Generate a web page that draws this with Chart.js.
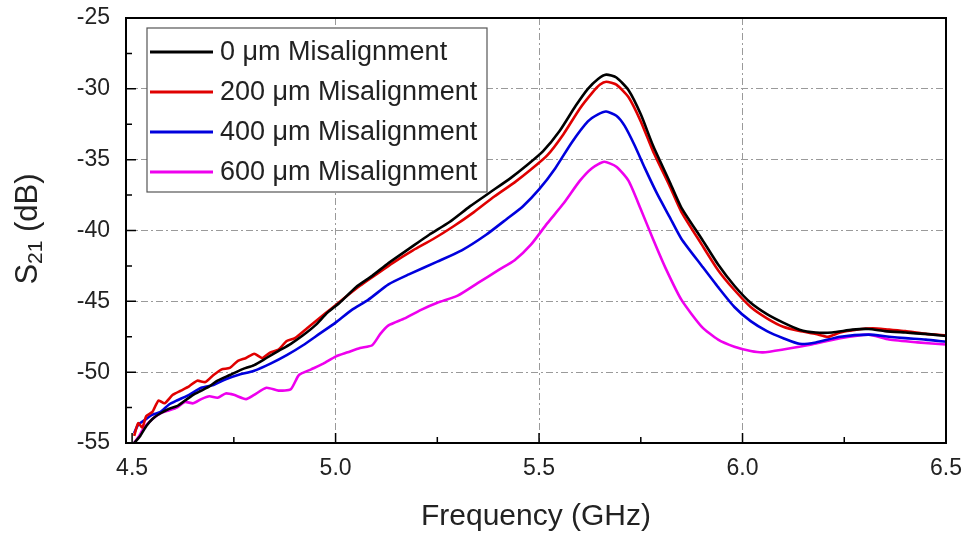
<!DOCTYPE html>
<html>
<head>
<meta charset="utf-8">
<script src="https://cdn.jsdelivr.net/npm/chart.js@4"></script>
<style>
  body { margin: 0; background: #fff; }
</style>
</head>
<body>
<canvas id="s21Chart" width="969" height="540"></canvas>
<script>
// frequency in GHz, S21 in dB
const labels = ["0 \u03bcm Misalignment", "200 \u03bcm Misalignment", "400 \u03bcm Misalignment", "600 \u03bcm Misalignment"];
const colors = ["#000000", "#e00000", "#0000dd", "#ee00ee"];

const freq0 = [4.505, 4.52, 4.535, 4.55, 4.57, 4.59, 4.61, 4.63, 4.65, 4.67, 4.69, 4.71, 4.74, 4.77, 4.80, 4.83, 4.86, 4.89, 4.92, 4.95, 4.98, 5.01, 5.05, 5.09, 5.13, 5.18, 5.23, 5.28, 5.33, 5.38, 5.43, 5.47, 5.51, 5.55, 5.59, 5.62, 5.645, 5.665, 5.69, 5.72, 5.75, 5.78, 5.82, 5.85, 5.90, 5.94, 5.98, 6.02, 6.06, 6.10, 6.14, 6.18, 6.22, 6.27, 6.31, 6.35, 6.40, 6.45, 6.50];
const s21_0 = [-55.0, -54.5, -53.8, -53.3, -52.9, -52.6, -52.4, -52.0, -51.6, -51.3, -51.0, -50.6, -50.2, -49.8, -49.5, -49.0, -48.5, -48.0, -47.4, -46.7, -45.8, -45.1, -44.0, -43.2, -42.3, -41.3, -40.3, -39.4, -38.3, -37.3, -36.3, -35.4, -34.4, -33.0, -31.2, -30.0, -29.3, -29.0, -29.2, -30.1, -31.8, -34.0, -36.5, -38.4, -40.6, -42.4, -43.9, -45.1, -45.9, -46.5, -47.0, -47.2, -47.2, -47.0, -46.95, -47.1, -47.2, -47.3, -47.45];

const freq200 = [4.505, 4.515, 4.525, 4.535, 4.55, 4.565, 4.58, 4.60, 4.62, 4.64, 4.66, 4.68, 4.70, 4.72, 4.74, 4.76, 4.78, 4.80, 4.82, 4.84, 4.86, 4.88, 4.90, 4.93, 4.96, 4.99, 5.02, 5.06, 5.10, 5.14, 5.19, 5.24, 5.29, 5.34, 5.39, 5.44, 5.48, 5.52, 5.56, 5.60, 5.63, 5.65, 5.665, 5.69, 5.72, 5.75, 5.78, 5.82, 5.85, 5.90, 5.94, 5.98, 6.02, 6.06, 6.10, 6.14, 6.18, 6.21, 6.24, 6.28, 6.32, 6.36, 6.40, 6.45, 6.50];
const s21_200 = [-54.5, -53.6, -53.9, -53.1, -52.8, -52.0, -52.2, -51.6, -51.3, -51.0, -50.6, -50.7, -50.2, -49.8, -49.7, -49.2, -49.0, -48.7, -49.0, -48.6, -48.4, -47.8, -47.6, -46.9, -46.2, -45.5, -44.8, -43.9, -43.1, -42.3, -41.4, -40.6, -39.7, -38.7, -37.6, -36.6, -35.7, -34.7, -33.2, -31.4, -30.3, -29.7, -29.5, -29.7, -30.6, -32.3, -34.4, -36.8, -38.7, -41.0, -42.8, -44.2, -45.4, -46.2, -46.8, -47.1, -47.3, -47.5, -47.2, -47.0, -46.9, -47.0, -47.1, -47.3, -47.4];

const freq400 = [4.505, 4.515, 4.53, 4.55, 4.57, 4.59, 4.61, 4.64, 4.67, 4.70, 4.73, 4.76, 4.80, 4.84, 4.88, 4.92, 4.96, 5.00, 5.04, 5.08, 5.13, 5.18, 5.25, 5.31, 5.37, 5.42, 5.46, 5.50, 5.54, 5.58, 5.62, 5.645, 5.665, 5.69, 5.71, 5.735, 5.76, 5.79, 5.82, 5.85, 5.90, 5.94, 5.98, 6.02, 6.06, 6.10, 6.14, 6.18, 6.24, 6.31, 6.36, 6.40, 6.45, 6.50];
const s21_400 = [-54.3, -53.7, -53.4, -53.0, -52.8, -52.3, -52.0, -51.6, -51.1, -50.9, -50.5, -50.2, -49.9, -49.4, -48.8, -48.1, -47.3, -46.5, -45.6, -44.9, -43.8, -43.1, -42.2, -41.4, -40.3, -39.2, -38.3, -37.1, -35.6, -33.8, -32.3, -31.8, -31.6, -31.9, -32.6, -34.0, -35.6, -37.4, -39.0, -40.6, -42.5, -44.0, -45.4, -46.4, -47.1, -47.6, -48.0, -47.9, -47.5, -47.35, -47.5, -47.6, -47.7, -47.85];

const freq600 = [4.505, 4.515, 4.53, 4.55, 4.57, 4.59, 4.61, 4.63, 4.65, 4.67, 4.69, 4.71, 4.73, 4.75, 4.78, 4.80, 4.83, 4.86, 4.89, 4.91, 4.94, 4.97, 5.00, 5.03, 5.06, 5.09, 5.11, 5.13, 5.17, 5.21, 5.25, 5.30, 5.35, 5.40, 5.44, 5.48, 5.52, 5.56, 5.60, 5.63, 5.66, 5.69, 5.72, 5.75, 5.78, 5.81, 5.85, 5.90, 5.94, 5.98, 6.02, 6.05, 6.10, 6.17, 6.24, 6.31, 6.36, 6.43, 6.50];
const s21_600 = [-55.0, -54.6, -53.9, -53.3, -52.9, -52.7, -52.5, -52.1, -52.2, -51.9, -51.7, -51.8, -51.5, -51.6, -51.9, -51.6, -51.1, -51.3, -51.2, -50.2, -49.8, -49.4, -48.9, -48.6, -48.3, -48.1, -47.3, -46.7, -46.2, -45.6, -45.1, -44.6, -43.7, -42.8, -42.1, -41.0, -39.5, -38.1, -36.5, -35.6, -35.15, -35.5, -36.5, -38.5, -40.6, -42.6, -44.9, -46.8, -47.7, -48.2, -48.5, -48.6, -48.4, -48.05, -47.6, -47.35, -47.7, -47.9, -48.05];

const xTicks = [4.5, 5.0, 5.5, 6.0, 6.5];
const yTicks = [-55, -50, -45, -40, -35, -30, -25];

const freqs = [freq0, freq200, freq400, freq600];
const values = [s21_0, s21_200, s21_400, s21_600];

const datasets = labels.map((label, i) => ({
  label: label,
  data: freqs[i].map((f, j) => ({ x: f, y: values[i][j] })),
  borderColor: colors[i],
  backgroundColor: colors[i],
  borderWidth: 2.6,
  pointRadius: 0,
  tension: 0.2,
  fill: false
}));

const fontFamily = '"Liberation Sans", Arial, sans-serif';

// frame, inward ticks, boxed legend and S21 axis title
const figureExtras = {
  id: 'figureExtras',
  afterDraw(chart) {
    const { ctx, chartArea: a, scales: { x, y } } = chart;
    ctx.save();
    ctx.strokeStyle = '#000';
    ctx.lineWidth = 2;
    ctx.strokeRect(a.left, a.top, a.right - a.left, a.bottom - a.top);

    ctx.lineWidth = 1.5;
    ctx.beginPath();
    yTicks.forEach((v, i) => {
      const py = y.getPixelForValue(v);
      ctx.moveTo(a.left, py); ctx.lineTo(a.left + 10, py);
      if (i < yTicks.length - 1) {
        const pm = y.getPixelForValue(v + 2.5);
        ctx.moveTo(a.left, pm); ctx.lineTo(a.left + 6, pm);
      }
    });
    xTicks.forEach((v, i) => {
      const px = x.getPixelForValue(v);
      ctx.moveTo(px, a.bottom); ctx.lineTo(px, a.bottom - 10);
      if (i < xTicks.length - 1) {
        const pm = x.getPixelForValue(v + 0.25);
        ctx.moveTo(pm, a.bottom); ctx.lineTo(pm, a.bottom - 6);
      }
    });
    ctx.stroke();

    // legend box
    ctx.fillStyle = '#fff';
    ctx.fillRect(147, 28, 340, 164);
    ctx.strokeStyle = '#555';
    ctx.lineWidth = 1.2;
    ctx.strokeRect(147, 28, 340, 164);
    ctx.font = '27px ' + fontFamily;
    ctx.textBaseline = 'middle';
    ctx.textAlign = 'left';
    chart.data.datasets.forEach((ds, i) => {
      const ly = 52 + i * 40;
      ctx.strokeStyle = ds.borderColor;
      ctx.lineWidth = 3;
      ctx.beginPath();
      ctx.moveTo(150, ly); ctx.lineTo(213, ly);
      ctx.stroke();
      ctx.fillStyle = '#222';
      ctx.fillText(ds.label, 220, ly + 1);
    });

    // y title with subscript
    ctx.translate(28, 229);
    ctx.rotate(-Math.PI / 2);
    ctx.fillStyle = '#222';
    const big = '31px ' + fontFamily;
    const small = '21px ' + fontFamily;
    ctx.font = big;
    const wS = ctx.measureText('S').width;
    const wT = ctx.measureText(' (dB)').width;
    ctx.font = small;
    const w21 = ctx.measureText('21').width;
    let tx = -(wS + w21 + wT) / 2;
    ctx.textBaseline = 'middle';
    ctx.font = big;
    ctx.fillText('S', tx, 0);
    tx += wS;
    ctx.font = small;
    ctx.fillText('21', tx, 8);
    tx += w21;
    ctx.font = big;
    ctx.fillText(' (dB)', tx, 0);
    ctx.restore();
  }
};

const ctx = document.getElementById('s21Chart').getContext('2d');
new Chart(ctx, {
  type: 'line',
  data: { datasets: datasets },
  options: {
    responsive: false,
    animation: false,
    devicePixelRatio: 1,
    layout: { padding: { left: 0, right: 23, top: 18, bottom: 0 } },
    plugins: {
      legend: { display: false },
      tooltip: { enabled: false }
    },
    scales: {
      x: {
        type: 'linear',
        min: 4.485,
        max: 6.5,
        afterFit: s => { s.height = 97; s.paddingLeft = 0; s.paddingRight = 0; },
        afterBuildTicks: s => { s.ticks = xTicks.map(v => ({ value: v })); },
        grid: {
          drawTicks: false,
          lineWidth: 1,
          color: c => (c.tick && (c.tick.value === 4.5 || c.tick.value === 6.5)) ? 'rgba(0,0,0,0)' : '#9a9a9a'
        },
        border: { display: false, dash: [7, 3, 2, 3] },
        ticks: {
          padding: 12,
          color: '#222',
          font: { size: 23, family: fontFamily },
          callback: v => Number(v).toFixed(1),
          maxRotation: 0
        },
        title: {
          display: true,
          text: 'Frequency (GHz)',
          color: '#222',
          font: { size: 30, family: fontFamily },
          padding: { top: 0, bottom: 5 }
        }
      },
      y: {
        type: 'linear',
        min: -55,
        max: -25,
        afterFit: s => { s.width = 126; s.paddingTop = 0; s.paddingBottom = 0; },
        afterBuildTicks: s => { s.ticks = yTicks.map(v => ({ value: v })); },
        grid: {
          drawTicks: false,
          lineWidth: 1,
          color: c => (c.tick && (c.tick.value === -55 || c.tick.value === -25)) ? 'rgba(0,0,0,0)' : '#9a9a9a'
        },
        border: { display: false, dash: [7, 3, 2, 3] },
        ticks: {
          padding: 16,
          color: '#222',
          font: { size: 23, family: fontFamily }
        }
      }
    }
  },
  plugins: [figureExtras]
});
</script>
</body>
</html>
